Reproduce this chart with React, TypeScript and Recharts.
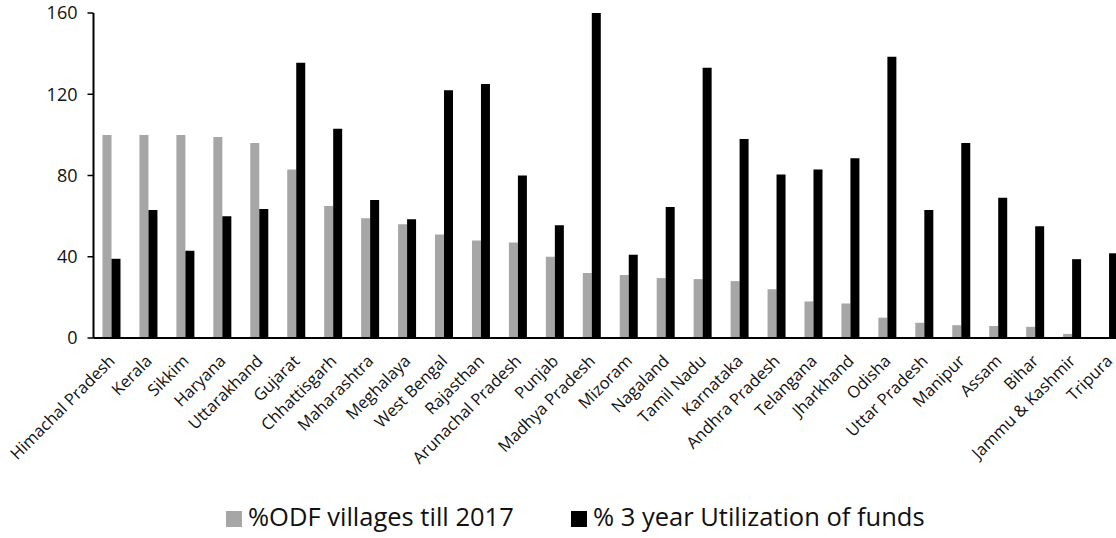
import React from "react";
import { BarChart, Bar, XAxis, YAxis, Legend } from "recharts";

const states = [
  "Himachal Pradesh", "Kerala", "Sikkim", "Haryana", "Uttarakhand", "Gujarat",
  "Chhattisgarh", "Maharashtra", "Meghalaya", "West Bengal", "Rajasthan",
  "Arunachal Pradesh", "Punjab", "Madhya Pradesh", "Mizoram", "Nagaland",
  "Tamil Nadu", "Karnataka", "Andhra Pradesh", "Telangana", "Jharkhand",
  "Odisha", "Uttar Pradesh", "Manipur", "Assam", "Bihar", "Jammu & Kashmir", "Tripura",
];

const odfVillages = [
  100, 100, 100, 99, 96, 83, 65, 59, 56, 51, 48, 47, 40, 32, 31, 29.5, 29, 28,
  24, 18, 17, 10, 7.5, 6.3, 5.9, 5.5, 2, 0,
];

const fundUtilization = [
  39, 63, 43, 60, 63.5, 135.5, 103, 68, 58.5, 122, 125, 80, 55.5, 160, 41, 64.5,
  133, 98, 80.5, 83, 88.5, 138.5, 63, 96, 69, 55, 38.8, 41.7,
];

const yTicks = [0, 40, 80, 120, 160];

const seriesNames = ["%ODF villages till 2017", "% 3 year Utilization of funds"];

const data = states.map((s, i) => ({
  state: s,
  odf: odfVillages[i],
  funds: fundUtilization[i],
}));

const FONT = "'Open Sans', sans-serif";

const XTick = (props: any) => {
  const { x, y, payload } = props;
  return (
    <g transform={`translate(${x + 4},${y + 16})`}>
      <text
        x={0}
        y={0}
        transform="rotate(-45)"
        textAnchor="end"
        fontSize={16.5}
        fontFamily={FONT}
        fill="#111"
      >
        {payload.value}
      </text>
    </g>
  );
};

const LegendContent = () => (
  <div style={{ position: "relative", height: 30, width: 1116, fontFamily: FONT, fontSize: 25.5, color: "#111" }}>
    <div style={{ position: "absolute", left: 226, top: 3, width: 16, height: 16, background: "#A6A6A6" }} />
    <div style={{ position: "absolute", left: 248, top: -10, whiteSpace: "nowrap", lineHeight: "36px" }}>{seriesNames[0]}</div>
    <div style={{ position: "absolute", left: 571, top: 3, width: 16, height: 16, background: "#000" }} />
    <div style={{ position: "absolute", left: 593, top: -10, whiteSpace: "nowrap", lineHeight: "36px" }}>{seriesNames[1]}</div>
  </div>
);

export default function App() {
  return (
    <div style={{ position: "fixed", left: 0, top: 0, width: 1116, height: 538, overflow: "hidden", background: "#fff" }}>
      <BarChart
        width={1128}
        height={538}
        data={data}
        margin={{ top: 13, right: 0, left: 0, bottom: 0 }}
        barGap={0}
        barSize={9}
      >
        <XAxis
          dataKey="state"
          interval={0}
          tickLine={false}
          axisLine={{ stroke: "#000", strokeWidth: 2 }}
          height={170}
          tick={<XTick />}
        />
        <YAxis
          domain={[0, 160]}
          ticks={yTicks}
          width={93.5}
          tickSize={6}
          tickMargin={10}
          axisLine={{ stroke: "#000", strokeWidth: 2 }}
          tickLine={{ stroke: "#000", strokeWidth: 1.5 }}
          tick={{ fontSize: 18, fontFamily: FONT, fill: "#111" }}
        />
        <Legend verticalAlign="bottom" content={<LegendContent />} wrapperStyle={{ left: 0, width: 1116, height: 30 }} />
        <Bar dataKey="odf" name={seriesNames[0]} fill="#A6A6A6" isAnimationActive={false} />
        <Bar dataKey="funds" name={seriesNames[1]} fill="#000000" isAnimationActive={false} />
      </BarChart>
    </div>
  );
}
